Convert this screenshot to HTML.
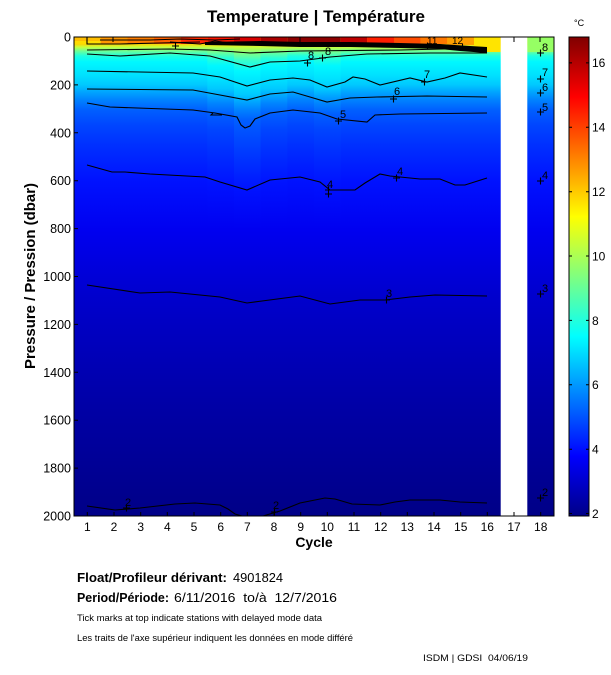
<!DOCTYPE html>
<html>
<head>
<meta charset="utf-8">
<style>
html,body{margin:0;padding:0;background:#fff;}
svg{display:block;font-family:"Liberation Sans",Arial,sans-serif;}
</style>
</head>
<body>
<svg width="611" height="675" viewBox="0 0 611 675" xmlns="http://www.w3.org/2000/svg">
<defs>
<linearGradient id="gb" gradientUnits="userSpaceOnUse" x1="0" y1="37" x2="0" y2="516">
<stop offset="0" stop-color="rgb(255,200,0)"/>
<stop offset="0.0146" stop-color="rgb(255,210,0)"/>
<stop offset="0.0209" stop-color="rgb(200,255,60)"/>
<stop offset="0.0292" stop-color="rgb(110,255,150)"/>
<stop offset="0.0397" stop-color="rgb(30,255,225)"/>
<stop offset="0.0522" stop-color="rgb(0,248,255)"/>
<stop offset="0.0793" stop-color="rgb(0,225,255)"/>
<stop offset="0.1002" stop-color="rgb(0,200,255)"/>
<stop offset="0.1148" stop-color="rgb(0,165,255)"/>
<stop offset="0.1315" stop-color="rgb(0,130,255)"/>
<stop offset="0.1524" stop-color="rgb(0,95,255)"/>
<stop offset="0.1837" stop-color="rgb(0,70,255)"/>
<stop offset="0.2255" stop-color="rgb(0,48,255)"/>
<stop offset="0.2985" stop-color="rgb(0,18,255)"/>
<stop offset="0.4029" stop-color="rgb(0,0,240)"/>
<stop offset="0.5407" stop-color="rgb(0,0,205)"/>
<stop offset="0.7578" stop-color="rgb(0,0,168)"/>
<stop offset="1" stop-color="rgb(0,0,135)"/>
</linearGradient>
<linearGradient id="g7" gradientUnits="userSpaceOnUse" x1="0" y1="37" x2="0" y2="516">
<stop offset="0" stop-color="rgb(255,200,0)"/>
<stop offset="0.0146" stop-color="rgb(255,210,0)"/>
<stop offset="0.0209" stop-color="rgb(200,255,60)"/>
<stop offset="0.0313" stop-color="rgb(140,255,120)"/>
<stop offset="0.0480" stop-color="rgb(60,255,200)"/>
<stop offset="0.0710" stop-color="rgb(0,248,255)"/>
<stop offset="0.0981" stop-color="rgb(0,225,255)"/>
<stop offset="0.1211" stop-color="rgb(0,200,255)"/>
<stop offset="0.1357" stop-color="rgb(0,165,255)"/>
<stop offset="0.1524" stop-color="rgb(0,130,255)"/>
<stop offset="0.1733" stop-color="rgb(0,95,255)"/>
<stop offset="0.2088" stop-color="rgb(0,75,255)"/>
<stop offset="0.2568" stop-color="rgb(0,50,255)"/>
<stop offset="0.3194" stop-color="rgb(0,18,255)"/>
<stop offset="0.4029" stop-color="rgb(0,0,240)"/>
<stop offset="0.5407" stop-color="rgb(0,0,205)"/>
<stop offset="0.7578" stop-color="rgb(0,0,168)"/>
<stop offset="1" stop-color="rgb(0,0,135)"/>
</linearGradient>
<linearGradient id="g4" gradientUnits="userSpaceOnUse" x1="0" y1="37" x2="0" y2="516">
<stop offset="0" stop-color="rgb(255,200,0)"/>
<stop offset="0.0146" stop-color="rgb(255,210,0)"/>
<stop offset="0.0209" stop-color="rgb(200,255,60)"/>
<stop offset="0.0300" stop-color="rgb(120,255,140)"/>
<stop offset="0.0440" stop-color="rgb(40,255,215)"/>
<stop offset="0.0605" stop-color="rgb(0,248,255)"/>
<stop offset="0.0877" stop-color="rgb(0,225,255)"/>
<stop offset="0.1086" stop-color="rgb(0,200,255)"/>
<stop offset="0.1232" stop-color="rgb(0,165,255)"/>
<stop offset="0.1399" stop-color="rgb(0,130,255)"/>
<stop offset="0.1608" stop-color="rgb(0,95,255)"/>
<stop offset="0.1921" stop-color="rgb(0,70,255)"/>
<stop offset="0.2380" stop-color="rgb(0,48,255)"/>
<stop offset="0.3069" stop-color="rgb(0,18,255)"/>
<stop offset="0.4029" stop-color="rgb(0,0,240)"/>
<stop offset="0.5407" stop-color="rgb(0,0,205)"/>
<stop offset="0.7578" stop-color="rgb(0,0,168)"/>
<stop offset="1" stop-color="rgb(0,0,135)"/>
</linearGradient>
<linearGradient id="jet" x1="0" y1="0" x2="0" y2="1">
<stop offset="0" stop-color="rgb(128,0,0)"/>
<stop offset="0.125" stop-color="rgb(255,0,0)"/>
<stop offset="0.375" stop-color="rgb(255,255,0)"/>
<stop offset="0.625" stop-color="rgb(0,255,255)"/>
<stop offset="0.875" stop-color="rgb(0,0,255)"/>
<stop offset="1" stop-color="rgb(0,0,135)"/>
</linearGradient>
</defs>

<!-- Title -->
<text x="316" y="22" font-size="16.5" font-weight="bold" text-anchor="middle" textLength="218" lengthAdjust="spacingAndGlyphs">Temperature | Température</text>

<!-- Heatmap body -->
<rect x="74" y="37" width="480" height="479" fill="url(#gb)"/>
<rect x="207.3" y="37" width="26.7" height="479" fill="url(#g4)"/>
<rect x="234" y="37" width="26.7" height="479" fill="url(#g7)"/>
<rect x="260.7" y="37" width="26.6" height="479" fill="url(#g4)"/>
<rect x="314" y="37" width="26.7" height="479" fill="url(#g4)"/>

<!-- Surface strip per column -->
<rect x="74" y="37" width="26.7" height="4" fill="rgb(255,190,0)"/>
<rect x="74" y="41" width="26.7" height="3" fill="rgb(255,220,0)"/>
<rect x="100.7" y="37" width="26.6" height="7" fill="rgb(255,150,0)"/>
<rect x="127.3" y="37" width="26.7" height="7" fill="rgb(255,125,0)"/>
<rect x="154" y="37" width="26.7" height="7" fill="rgb(255,95,0)"/>
<rect x="180.7" y="37" width="26.6" height="7" fill="rgb(255,40,0)"/>
<rect x="207.3" y="37" width="26.7" height="7" fill="rgb(250,20,0)"/>
<rect x="234" y="37" width="26.7" height="7" fill="rgb(215,0,0)"/>
<rect x="260.7" y="37" width="26.6" height="7" fill="rgb(170,0,0)"/>
<rect x="287.3" y="37" width="26.7" height="7" fill="rgb(140,0,0)"/>
<rect x="314" y="37" width="26.7" height="7" fill="rgb(140,0,0)"/>
<rect x="340.7" y="37" width="26.6" height="7" fill="rgb(190,0,0)"/>
<rect x="367.3" y="37" width="26.7" height="7" fill="rgb(255,30,0)"/>
<rect x="394" y="37" width="26.7" height="7" fill="rgb(255,75,0)"/>
<rect x="420.7" y="37" width="26.6" height="7" fill="rgb(255,120,0)"/>
<rect x="447.3" y="37" width="26.7" height="8" fill="rgb(255,160,0)"/>
<rect x="474" y="37" width="26.7" height="15" fill="rgb(255,228,0)"/>
<rect x="527.3" y="37" width="26.7" height="15" fill="rgb(150,255,100)"/>

<!-- Blank column 17 -->
<rect x="500.7" y="37" width="26.6" height="479" fill="#fff"/>

<!-- Contours -->
<g fill="none" stroke="#000" stroke-width="1.1">
<polyline points="87,37 87,44 120,44 160,43 200,42"/>
<polyline points="100,40 150,40 180,39 215,40 240,39"/>
<polyline points="170,42 200,44 215,41 230,43"/>
<polyline points="87,50 170,49 210,50 250,53 300,51 400,50 487,48"/>
<polyline points="87,54 120,56 170,53 210,56 250,67 270,62 300,61 330,57 367,54 430,53 487,53"/>
<polyline points="87,71 193,73 220,77 247,86 270,80 293,78 310,80 327,87 345,82 353,77 365,79 380,85 410,78 427,82 445,78 460,73 487,77"/>
<polyline points="87,89 193,90 220,95 247,100 270,94 293,92 310,97 327,102 350,98 377,97 427,96 487,97"/>
<polyline points="87,103 110,107 193,110 215,113 237,117 241,125 245,128 250,126 255,119 270,113 293,110 320,113 337,119 367,122 375,115 400,114 487,113"/>
<polyline points="213,113 211,115 222,115"/>
<polyline points="87,165 112,172 125,172 150,174 205,177 220,182 247,190 270,180 300,177 320,182 330,190 355,190 365,183 380,174 390,176 420,179 440,179 455,185 465,185 487,178"/>
<polyline points="87,285 140,293 170,292 220,297 247,303 262,301 300,296 330,304 360,300 385,300 410,297 435,295 487,296"/>
<polyline points="87,506 115,510 140,508 175,504 195,503 220,505 228,509 235,514 242,516"/>
<polyline points="263,516 280,511 300,503 325,498 335,499 352,504 380,505 395,502 410,500 440,500 460,502 487,503"/>
</g>
<polygon points="205,42 260,41 300,42 350,42 400,43 440,44 470,46 487,47 487,53 460,51 440,49 400,48 350,47 300,47 260,46 205,45" fill="#000"/>

<!-- Contour labels and markers -->
<g font-size="11" fill="#000">
<text x="308" y="59">8</text>
<text x="325" y="55">8</text>
<text x="424" y="78">7</text>
<text x="394" y="95">6</text>
<text x="340" y="118">5</text>
<text x="397" y="175">4</text>
<text x="327" y="188">4</text>
<text x="386" y="297">3</text>
<text x="125" y="506">2</text>
<text x="273" y="509">2</text>
<text x="542" y="51">8</text>
<text x="542" y="76">7</text>
<text x="542" y="91">6</text>
<text x="542" y="111">5</text>
<text x="542" y="179">4</text>
<text x="542" y="292">3</text>
<text x="542" y="496">2</text>
<text x="452" y="44" font-size="10">12</text>
<text x="427" y="44" font-size="10">11</text>
</g>
<g stroke="#000" stroke-width="1.1">
<path d="M304,63h7M307.5,59.5v7"/>
<path d="M319,58h7M322.5,54.5v7"/>
<path d="M421,82h7M424.5,78.5v7"/>
<path d="M390,99h7M393.5,95.5v7"/>
<path d="M335,121h7M338.5,117.5v7"/>
<path d="M393,178h7M396.5,174.5v7"/>
<path d="M325,190h7M328.5,186.5v7M325,194h7M328.5,190.5v7"/>
<path d="M383,300h7M386.5,296.5v7"/>
<path d="M123,508h7M126.5,504.5v7"/>
<path d="M271,512h7M274.5,508.5v7"/>
<path d="M537,53h7M540.5,49.5v7"/>
<path d="M537,79h7M540.5,75.5v7"/>
<path d="M537,93h7M540.5,89.5v7"/>
<path d="M537,112h7M540.5,108.5v7"/>
<path d="M537,181h7M540.5,177.5v7"/>
<path d="M537,294h7M540.5,290.5v7"/>
<path d="M537,498h7M540.5,494.5v7"/>
<path d="M172,46h7M175.5,42.5v7"/>
<path d="M424,46h7M427.5,42.5v7"/>
<path d="M459,47h7M462.5,43.5v7"/>
</g>

<!-- Axes box -->
<rect x="74" y="37" width="480" height="479" fill="none" stroke="#000" stroke-width="1"/>
<!-- top ticks (delayed mode) -->
<g stroke="#000" stroke-width="1">
<path d="M113,37v5M300,37v5M514,37v5M540,37v5"/>
<!-- bottom ticks -->
<path d="M87.3,516v-4M114,516v-4M140.7,516v-4M167.3,516v-4M194,516v-4M220.7,516v-4M247.3,516v-4M274,516v-4M300.7,516v-4M327.3,516v-4M354,516v-4M380.7,516v-4M407.3,516v-4M434,516v-4M460.7,516v-4M487.3,516v-4M514,516v-4M540.7,516v-4"/>
<!-- left ticks -->
<path d="M74,84.9h4M74,132.8h4M74,180.7h4M74,228.6h4M74,276.5h4M74,324.4h4M74,372.3h4M74,420.2h4M74,468.1h4"/>
</g>

<!-- Y tick labels -->
<g font-size="12.5" text-anchor="end">
<text x="71" y="41.5">0</text>
<text x="71" y="89.4">200</text>
<text x="71" y="137.3">400</text>
<text x="71" y="185.2">600</text>
<text x="71" y="233.1">800</text>
<text x="71" y="281">1000</text>
<text x="71" y="328.9">1200</text>
<text x="71" y="376.8">1400</text>
<text x="71" y="424.7">1600</text>
<text x="71" y="472.6">1800</text>
<text x="71" y="520.5">2000</text>
</g>

<!-- X tick labels -->
<g font-size="12" text-anchor="middle">
<text x="87.3" y="531">1</text>
<text x="114" y="531">2</text>
<text x="140.7" y="531">3</text>
<text x="167.3" y="531">4</text>
<text x="194" y="531">5</text>
<text x="220.7" y="531">6</text>
<text x="247.3" y="531">7</text>
<text x="274" y="531">8</text>
<text x="300.7" y="531">9</text>
<text x="327.3" y="531">10</text>
<text x="354" y="531">11</text>
<text x="380.7" y="531">12</text>
<text x="407.3" y="531">13</text>
<text x="434" y="531">14</text>
<text x="460.7" y="531">15</text>
<text x="487.3" y="531">16</text>
<text x="514" y="531">17</text>
<text x="540.7" y="531">18</text>
</g>

<text x="314" y="547" font-size="14" font-weight="bold" text-anchor="middle">Cycle</text>
<text transform="translate(35,276) rotate(-90)" font-size="15" font-weight="bold" text-anchor="middle" textLength="186" lengthAdjust="spacingAndGlyphs">Pressure / Pression (dbar)</text>

<!-- Colorbar -->
<rect x="569" y="37" width="20" height="479" fill="url(#jet)" stroke="#000" stroke-width="1"/>
<g stroke="#000" stroke-width="1">
<path d="M569,513.5h3M586,513.5h3M569,449.2h3M586,449.2h3M569,384.8h3M586,384.8h3M569,320.4h3M586,320.4h3M569,256h3M586,256h3M569,191.7h3M586,191.7h3M569,127.3h3M586,127.3h3M569,62.9h3M586,62.9h3"/>
</g>
<g font-size="12">
<text x="592" y="518">2</text>
<text x="592" y="453.5">4</text>
<text x="592" y="389">6</text>
<text x="592" y="325">8</text>
<text x="592" y="260.5">10</text>
<text x="592" y="196">12</text>
<text x="592" y="131.5">14</text>
<text x="592" y="67">16</text>
</g>
<text x="574" y="26" font-size="9">°C</text>

<!-- Footer -->
<text x="77" y="582" font-size="13" font-weight="bold" textLength="150" lengthAdjust="spacingAndGlyphs">Float/Profileur dérivant:</text>
<text x="233" y="582" font-size="13" textLength="50" lengthAdjust="spacingAndGlyphs">4901824</text>
<text x="77" y="602" font-size="13" font-weight="bold" textLength="92" lengthAdjust="spacingAndGlyphs">Period/Période:</text>
<text x="174" y="602" font-size="13" textLength="163" lengthAdjust="spacingAndGlyphs" xml:space="preserve">6/11/2016  to/à  12/7/2016</text>
<text x="77" y="621" font-size="9.5" textLength="245" lengthAdjust="spacingAndGlyphs">Tick marks at top indicate stations with delayed mode data</text>
<text x="77" y="641" font-size="9.5" textLength="276" lengthAdjust="spacingAndGlyphs">Les traits de l'axe supérieur indiquent les données en mode différé</text>
<text x="423" y="661" font-size="9.5" textLength="105" lengthAdjust="spacingAndGlyphs" xml:space="preserve">ISDM | GDSI  04/06/19</text>
</svg>
</body>
</html>
